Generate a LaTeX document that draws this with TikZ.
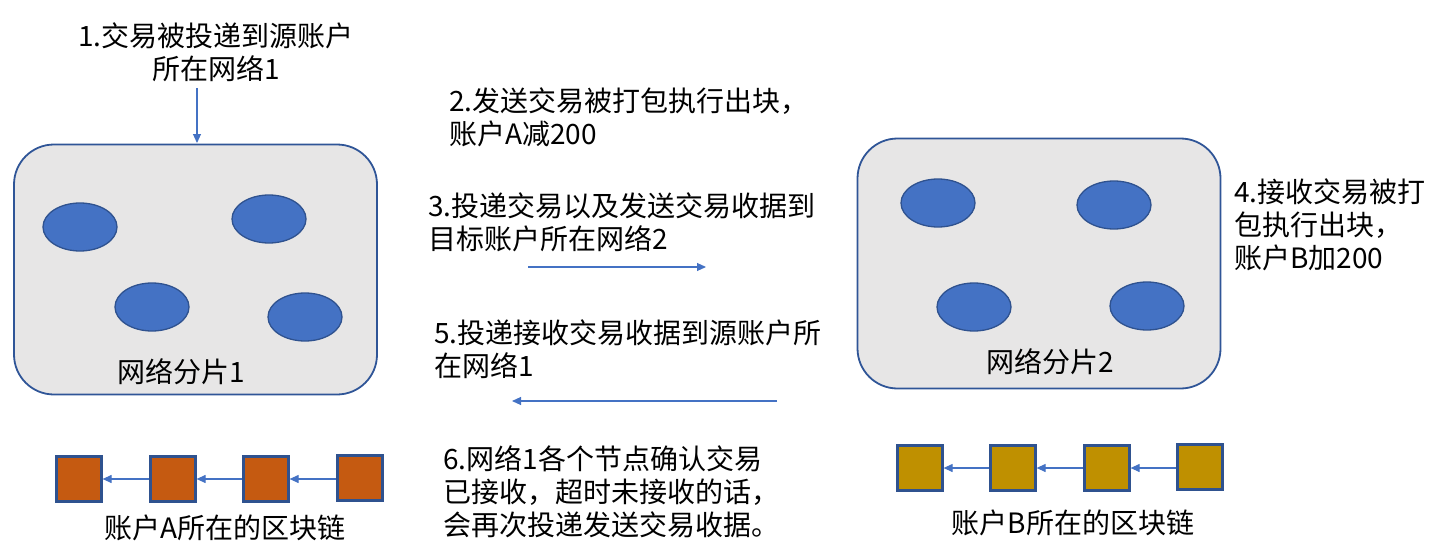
\documentclass[tikz,border=0pt]{standalone}
\usepackage{fontspec}
\setmainfont{Noto Sans CJK SC}
\usetikzlibrary{arrows.meta,shapes.geometric}
\definecolor{boxfill}{HTML}{E7E6E6}
\definecolor{boxline}{HTML}{2F5597}
\definecolor{nodefill}{HTML}{4472C4}
\definecolor{nodeline}{HTML}{2F528F}
\definecolor{blockA}{HTML}{C55A11}
\definecolor{blockB}{HTML}{BF9000}
\definecolor{arrowcol}{HTML}{4472C4}
\tikzset{
  shard/.style={draw=boxline, line width=1.8pt, fill=boxfill, rounded corners=40pt,
    minimum width=363pt, minimum height=250pt, inner sep=0pt},
  peer/.style={ellipse, draw=nodeline, line width=1.3pt, fill=nodefill,
    minimum width=74pt, minimum height=48pt, inner sep=0pt},
  blk/.style={draw=nodeline, line width=2.2pt, minimum width=45pt, minimum height=45pt, inner sep=0pt},
  txt/.style={font=\fontsize{28}{33}\selectfont, inner sep=0pt, align=left, anchor=west},
  ctxt/.style={font=\fontsize{28}{33}\selectfont, inner sep=0pt, align=center},
  flow/.style={draw=arrowcol, line width=1.1pt, -{Triangle[length=9pt,width=8pt]}},
}
\begin{document}
\begin{tikzpicture}[x=1pt,y=-1pt]
\useasboundingbox (0,0) rectangle (1431,559);
% shards
\node[shard] (s1) at (195.5,269.5) {};
\node[shard] (s2) at (1039,263.5) {};
% peers shard 1
\node[peer] (p11) at (80,227) {};
\node[peer] (p12) at (269,219) {};
\node[peer] (p13) at (152,307) {};
\node[peer] (p14) at (305,317) {};
% peers shard 2
\node[peer] (p21) at (938,203) {};
\node[peer] (p22) at (1114,205) {};
\node[peer] (p23) at (974,307) {};
\node[peer] (p24) at (1147,306) {};
\node[ctxt] (l1) at (181,372) {网络分片1};
\node[ctxt] (l2) at (1050,362) {网络分片2};
% texts
\node[ctxt] (t1) at (216,52) {1.交易被投递到源账户\\所在网络1};
\node[txt] (t2) at (449,117.5) {2.发送交易被打包执行出块，\\账户A减200};
\node[txt] (t3) at (428,222) {3.投递交易以及发送交易收据到\\目标账户所在网络2};
\node[txt] (t5) at (434,349.5) {5.投递接收交易收据到源账户所\\在网络1};
\node[txt] (t4) at (1234,225) {4.接收交易被打\\包执行出块，\\账户B加200};
\node[txt] (t6) at (443,492) {6.网络1各个节点确认交易\\已接收，超时未接收的话，\\会再次投递发送交易收据。};
% arrows
\coordinate (a1s) at (197,88);
\coordinate (a1e) at (197,143);
\draw[flow] (a1s) -- (a1e);
\coordinate (a3s) at (528,267);
\coordinate (a3e) at (706,267);
\draw[flow] (a3s) -- (a3e);
\coordinate (a5s) at (777,401);
\coordinate (a5e) at (512,401);
\draw[flow] (a5s) -- (a5e);
% chain A
\node[blk, fill=blockA] (a1) at (79,479) {};
\node[blk, fill=blockA] (a2) at (173,479) {};
\node[blk, fill=blockA] (a3) at (266,479) {};
\node[blk, fill=blockA] (a4) at (360,478) {};
\draw[flow] (a2.west) -- (a1.east);
\draw[flow] (a3.west) -- (a2.east);
\draw[flow] (a4.west |- a3.west) -- (a3.east);
\node[ctxt] (ca) at (225,528) {账户A所在的区块链};
% chain B
\node[blk, fill=blockB] (b1) at (920,468) {};
\node[blk, fill=blockB] (b2) at (1013,468) {};
\node[blk, fill=blockB] (b3) at (1107,468) {};
\node[blk, fill=blockB] (b4) at (1200,467) {};
\draw[flow] (b2.west) -- (b1.east);
\draw[flow] (b3.west) -- (b2.east);
\draw[flow] (b4.west |- b3.west) -- (b3.east);
\node[ctxt] (cb) at (1073,523) {账户B所在的区块链};
\end{tikzpicture}
\end{document}
